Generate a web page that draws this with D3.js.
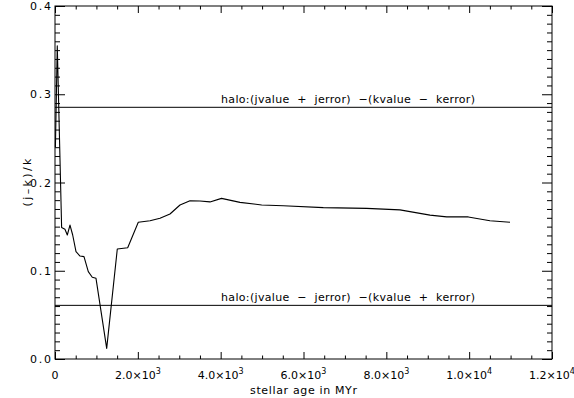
<!DOCTYPE html>
<html>
<head>
<meta charset="utf-8">
<script src="https://cdn.jsdelivr.net/npm/d3@7"></script>
<style>
  html, body { margin: 0; padding: 0; background: #fff; }
  svg { display: block; }
  text { font-family: "DejaVu Sans", sans-serif; fill: #000; }
</style>
</head>
<body>
<svg id="chart" width="574" height="398"></svg>
<script>
// Stellar age (Myr) and the (j-k)/k ratio of the track
const ages = [10, 55, 160, 240, 297, 362, 427, 507, 604, 700, 804, 900, 990, 1248, 1504, 1755, 2011,
  2294, 2535, 2776, 3018, 3259, 3500, 3742, 4020, 4467, 4990, 5512, 6478, 7525, 8329, 9054, 9457,
  9979, 10502, 10985];
const ratio = [0.240, 0.355, 0.149, 0.147, 0.1405, 0.1518, 0.1405, 0.1216, 0.1167, 0.116, 0.099,
  0.0926, 0.0914, 0.012, 0.1246, 0.1261, 0.1549, 0.1567, 0.1594, 0.1643, 0.1745, 0.1794, 0.179,
  0.178, 0.182, 0.1775, 0.1745, 0.1737, 0.1715, 0.1707, 0.169, 0.163, 0.161, 0.161, 0.1567, 0.1549];

// Halo reference levels
const haloValues = [0.2852, 0.0608];
const haloLabels = ["halo:(jvalue  +  jerror)  \u2212(kvalue  \u2212  kerror)",
                    "halo:(jvalue  \u2212  jerror)  \u2212(kvalue  +  kerror)"];

// Axis ticks
const xMajor = [0, 2000, 4000, 6000, 8000, 10000, 12000];
const xMajorLabels = [["0", ""], ["2.0\u00d710", "3"], ["4.0\u00d710", "3"], ["6.0\u00d710", "3"],
  ["8.0\u00d710", "3"], ["1.0\u00d710", "4"], ["1.2\u00d710", "4"]];
const yMajor = [0.0, 0.1, 0.2, 0.3, 0.4];
const yMajorLabels = ["0.0", "0.1", "0.2", "0.3", "0.4"];

const xTitle = "stellar age in MYr";
const yTitle = "(j\u2013k)/k";

const svg = d3.select("#chart");
const pLeft = 55, pRight = 552, pTop = 6, pBottom = 359;

const x = d3.scaleLinear().domain([0, 12000]).range([pLeft, pRight]);
const y = d3.scaleLinear().domain([0, 0.4]).range([pBottom, pTop]);

const xMinor = d3.range(0, 12001, 500).filter(v => !xMajor.includes(v));
const yMinor = d3.range(0, 41).map(i => i / 100).filter(v => !yMajor.some(m => Math.abs(m - v) < 1e-9));

const xMajLen = 7, xMinLen = 3.5, yMajLen = 10, yMinLen = 5;

function styleAxis(g) {
  g.select(".domain").remove();
  g.selectAll(".tick line").attr("stroke", "#000").attr("stroke-width", 1);
  g.selectAll(".tick text").remove();
}

// bottom / top ticks (pointing into the plot)
[[pBottom, d3.axisTop], [pTop, d3.axisBottom]].forEach(([pos, fn]) => {
  svg.append("g").attr("transform", `translate(0,${pos})`)
    .call(fn(x).tickValues(xMajor).tickSize(xMajLen)).call(styleAxis);
  svg.append("g").attr("transform", `translate(0,${pos})`)
    .call(fn(x).tickValues(xMinor).tickSize(xMinLen)).call(styleAxis);
});
// left / right ticks
[[pLeft, d3.axisRight], [pRight, d3.axisLeft]].forEach(([pos, fn]) => {
  svg.append("g").attr("transform", `translate(${pos},0)`)
    .call(fn(y).tickValues(yMajor).tickSize(yMajLen)).call(styleAxis);
  svg.append("g").attr("transform", `translate(${pos},0)`)
    .call(fn(y).tickValues(yMinor).tickSize(yMinLen)).call(styleAxis);
});

// frame
svg.append("rect").attr("x", pLeft).attr("y", pTop)
  .attr("width", pRight - pLeft).attr("height", pBottom - pTop)
  .attr("fill", "none").attr("stroke", "#000").attr("stroke-width", 1);

// x tick labels
const xl = svg.append("g");
xMajor.forEach((v, i) => {
  const t = xl.append("text").attr("x", x(v)).attr("y", 379)
    .attr("text-anchor", "middle").style("font-size", "11px");
  t.append("tspan").text(xMajorLabels[i][0]);
  if (xMajorLabels[i][1]) {
    t.append("tspan").attr("dy", -5).style("font-size", "8px").text(xMajorLabels[i][1]);
  }
});

// y tick labels
yMajor.forEach((v, i) => {
  svg.append("text").attr("x", 51).attr("y", y(v) + 4)
    .attr("text-anchor", "end").style("font-size", "11px")
    .attr("textLength", 21).attr("lengthAdjust", "spacing")
    .text(yMajorLabels[i]);
});

// axis titles
svg.append("text").attr("x", (pLeft + pRight) / 2).attr("y", 394)
  .attr("text-anchor", "middle").style("font-size", "11px")
  .attr("textLength", 107).attr("lengthAdjust", "spacing").text(xTitle);
svg.append("text")
  .attr("transform", `translate(31,${(pTop + pBottom) / 2}) rotate(-90)`)
  .attr("text-anchor", "middle").style("font-size", "11px")
  .attr("textLength", 48).attr("lengthAdjust", "spacing").text(yTitle);

// halo reference lines and their labels
haloValues.forEach((v, i) => {
  svg.append("line").attr("x1", pLeft).attr("x2", pRight)
    .attr("y1", y(v)).attr("y2", y(v))
    .attr("stroke", "#000").attr("stroke-width", 1);
  svg.append("text").attr("x", 221).attr("y", y(v) - 4)
    .style("font-size", "11px").style("white-space", "pre")
    .attr("textLength", 254).attr("lengthAdjust", "spacing")
    .text(haloLabels[i]);
});

// data track
const line = d3.line().x((d, i) => x(ages[i])).y((d, i) => y(ratio[i]));
svg.append("path").datum(ratio).attr("d", line)
  .attr("fill", "none").attr("stroke", "#000").attr("stroke-width", 1.1)
  .attr("stroke-linejoin", "round");
</script>
</body>
</html>
